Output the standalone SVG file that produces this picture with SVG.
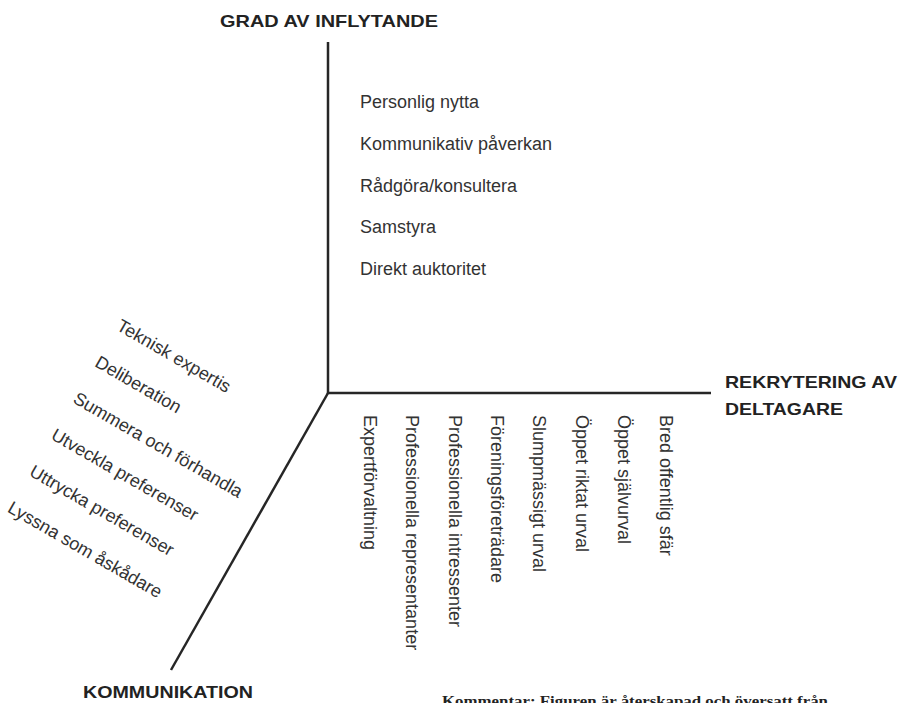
<svg xmlns="http://www.w3.org/2000/svg" width="901" height="703" viewBox="0 0 901 703">
<style>
.axis{stroke:#262626;stroke-width:2.5;fill:none;stroke-linecap:butt}
.hd{font-family:"Liberation Sans",Arial,sans-serif;font-weight:bold;font-size:16.5px;fill:#222}
.lb{font-family:"Liberation Sans",Arial,sans-serif;font-size:18px;fill:#333}
.note{font-family:"Liberation Serif","Times New Roman",serif;font-weight:bold;font-size:15.5px;fill:#222}
</style>
<rect width="901" height="703" fill="#fff"/>
<g id="connectors">
<line class="axis" x1="328" y1="42" x2="328" y2="394"/>
<line class="axis" x1="327" y1="393" x2="711" y2="393"/>
<line class="axis" x1="328" y1="393" x2="171" y2="670"/>
</g>
<g id="axis-influence">
<text class="hd" x="220" y="27" textLength="218" lengthAdjust="spacingAndGlyphs">GRAD AV INFLYTANDE</text>
<text class="lb" x="360" y="108">Personlig nytta</text>
<text class="lb" x="360" y="150">Kommunikativ påverkan</text>
<text class="lb" x="360" y="192">Rådgöra/konsultera</text>
<text class="lb" x="360" y="233">Samstyra</text>
<text class="lb" x="360" y="275">Direkt auktoritet</text>
</g>
<g id="axis-recruitment">
<text class="hd" x="725" y="388" textLength="172" lengthAdjust="spacingAndGlyphs">REKRYTERING AV</text>
<text class="hd" x="725" y="415" textLength="118" lengthAdjust="spacingAndGlyphs">DELTAGARE</text>
<text class="lb" transform="translate(364,415) rotate(90)">Expertförvaltning</text>
<text class="lb" transform="translate(406.3,415) rotate(90)">Professionella representanter</text>
<text class="lb" transform="translate(448.6,415) rotate(90)">Professionella intressenter</text>
<text class="lb" transform="translate(490.9,415) rotate(90)">Föreningsföreträdare</text>
<text class="lb" transform="translate(533.2,415) rotate(90)">Slumpmässigt urval</text>
<text class="lb" transform="translate(575.5,415) rotate(90)">Öppet riktat urval</text>
<text class="lb" transform="translate(617.8,415) rotate(90)">Öppet självurval</text>
<text class="lb" transform="translate(660.1,415) rotate(90)">Bred offentlig sfär</text>
</g>
<g id="axis-communication">
<text class="hd" x="83" y="698" textLength="170" lengthAdjust="spacingAndGlyphs">KOMMUNIKATION</text>
<text class="lb" transform="translate(115.5,329.3) rotate(30)">Teknisk expertis</text>
<text class="lb" transform="translate(93.7,365.7) rotate(30)">Deliberation</text>
<text class="lb" transform="translate(71.9,402.1) rotate(30)">Summera och förhandla</text>
<text class="lb" transform="translate(50.1,438.5) rotate(30)">Utveckla preferenser</text>
<text class="lb" transform="translate(28.3,474.9) rotate(30)">Uttrycka preferenser</text>
<text class="lb" transform="translate(6.5,511.3) rotate(30)">Lyssna som åskådare</text>
</g>
<g id="note">
<text class="note" x="442" y="706" textLength="386" lengthAdjust="spacingAndGlyphs">Kommentar: Figuren är återskapad och översatt från</text>
</g>
</svg>
